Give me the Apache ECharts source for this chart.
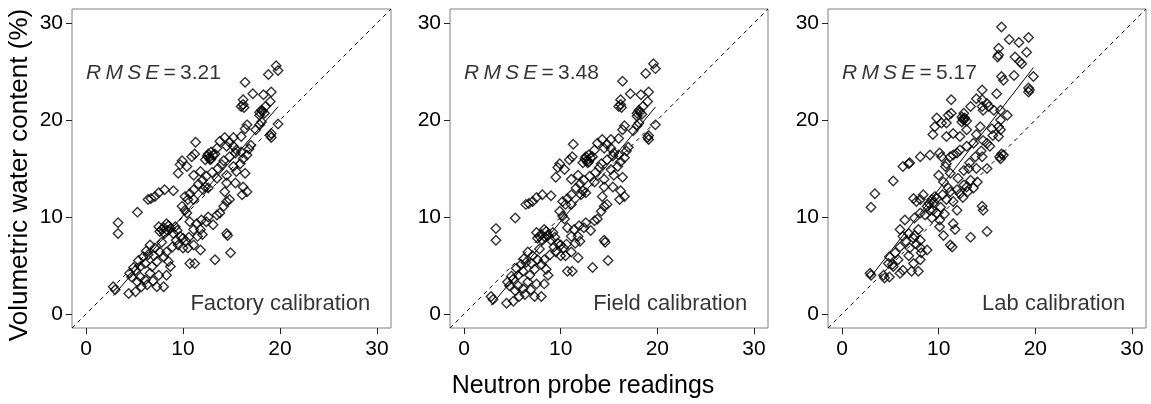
<!DOCTYPE html>
<html>
<head>
<meta charset="utf-8">
<script src="https://cdn.jsdelivr.net/npm/echarts@6/dist/echarts.min.js"></script>
<style>
html,body{margin:0;padding:0;background:#fff;}
#chart{width:1151px;height:404px;}
</style>
</head>
<body>
<div id="chart"></div>
<script>
// ---------- data ----------
const panelNames = ['Factory calibration', 'Field calibration', 'Lab calibration'];
const rmseValues = ['3.21', '3.48', '5.17'];
const tickValues = [0, 10, 20, 30];
const xTitle = 'Neutron probe readings';
const yTitle = 'Volumetric water content (%)';

// neutron probe readings (shared by factory & field panels)
const probeX = [
19.6,19.8,18.8,16.4,17.2,18.3,19.1,16.2,16.0,16.3,16.2,18.5,19.0,18.1,17.9,17.9,18.4,18.2,16.6,16.4,17.9,18.1,19.8,19.1,19.0,19.1,16.0,15.2,17.5,
11.3,14.3,13.8,14.8,15.2,14.5,13.5,12.9,12.5,12.7,12.9,13.1,13.3,12.6,12.8,12.3,11.2,10.9,9.9,9.7,9.5,10.4,11.1,11.8,14.0,15.5,16.0,16.6,15.9,15.2,15.5,16.4,14.5,13.5,12.3,12.6,12.1,14.5,15.4,14.3,16.2,16.6,16.1,11.1,10.7,10.5,10.2,11.1,9.9,10.2,10.4,8.1,7.5,7.1,6.4,6.7,9.0,5.3,14.5,14.2,14.8,13.8,13.5,12.6,12.4,11.9,11.4,11.8,13.1,10.7,11.1,
11.6,12.0,12.4,13.0,13.6,14.2,14.8,15.4,16.2,16.8,17.0,
3.3,3.3,
7.5,7.8,8.3,8.7,9.0,8.1,9.2,9.7,10.0,8.5,8.0,7.6,8.4,9.4,10.3,9.3,9.5,10.0,10.5,11.1,11.8,10.7,11.2,13.3,14.5,14.6,14.9,11.5,12.0,10.6,
6.6,7.1,7.6,6.4,5.9,8.3,8.0,8.5,8.7,7.3,6.8,6.1,5.6,5.1,4.5,4.7,5.6,6.1,6.6,7.5,8.3,5.7,6.3,7.3,8.0,4.4,5.1,2.8,3.0,7.0,6.2,5.4,4.9,7.8,8.9,6.9,5.3
];
const factoryY = [
25.6,25.1,24.7,23.9,22.7,22.6,22.9,22.1,21.4,21.3,21.6,21.4,21.9,21.0,20.8,20.5,20.7,20.9,19.5,19.1,19.5,19.8,19.6,18.6,18.4,18.2,18.3,18.2,19.0,
17.7,18.2,17.8,17.7,17.3,17.3,17.1,16.7,16.3,16.1,16.0,16.4,16.5,16.5,15.9,15.9,16.5,16.2,15.8,15.4,14.5,15.2,14.3,14.7,15.4,16.9,16.7,16.4,15.5,15.2,14.7,14.5,14.3,14.0,13.1,13.0,12.8,13.5,13.5,12.6,13.1,12.6,12.3,12.8,12.4,11.8,12.1,11.8,11.1,10.7,10.4,12.8,12.5,12.1,11.8,11.9,12.7,10.5,11.6,11.1,11.8,10.4,10.2,10.0,9.5,9.7,9.3,8.7,9.2,9.5,8.7,
13.4,13.8,14.2,14.6,15.0,15.8,16.2,16.6,16.0,17.0,17.4,
9.4,8.3,
9.0,8.7,9.3,8.8,8.3,8.3,9.0,8.0,7.8,9.1,8.9,8.5,8.6,8.6,7.5,7.6,7.1,6.8,6.8,7.1,6.6,5.2,5.2,5.6,8.3,8.1,6.3,8.0,8.2,7.9,
7.1,6.8,6.4,6.1,5.9,6.4,5.9,5.4,4.9,5.4,4.9,5.2,4.9,4.5,4.2,3.8,3.8,3.5,4.2,4.0,4.0,2.8,3.0,2.8,2.8,2.1,2.3,2.8,2.5,6.0,6.5,5.5,4.8,7.4,6.9,3.4,3.3
];
const fieldY = [
25.8,25.3,24.8,24.0,22.7,22.6,22.9,22.1,21.4,21.3,21.6,21.4,21.9,21.0,20.7,20.4,20.6,20.8,19.4,19.0,19.4,19.7,19.5,18.4,18.2,18.0,18.1,18.0,18.9,
17.5,18.0,17.6,17.5,17.1,17.1,16.9,16.4,16.0,15.8,15.7,16.1,16.2,16.2,15.6,15.6,16.2,15.9,15.5,15.1,14.1,14.9,13.9,14.3,15.1,16.6,16.4,16.1,15.2,14.9,14.3,14.1,13.9,13.6,12.7,12.5,12.3,13.1,13.1,12.1,12.7,12.1,11.8,12.3,11.9,11.3,11.6,11.3,10.6,10.1,9.8,12.3,12.0,11.6,11.3,11.4,12.2,9.9,11.1,10.6,11.3,9.8,9.6,9.4,8.9,9.1,8.7,8.0,8.6,8.9,8.0,
13.0,13.4,13.8,14.2,14.6,15.5,15.9,16.3,15.7,16.8,17.2,
8.8,7.6,
8.4,8.0,8.7,8.1,7.6,7.6,8.4,7.3,7.1,8.5,8.2,7.8,7.9,7.9,6.8,6.9,6.4,6.0,6.0,6.4,5.8,4.4,4.4,4.8,7.6,7.4,5.5,7.3,7.5,7.2,
6.4,6.0,5.6,5.3,5.1,5.6,5.1,4.6,4.0,4.6,4.0,4.4,4.0,3.6,3.3,2.9,2.9,2.6,3.3,3.1,3.1,1.8,2.0,1.8,1.8,1.1,1.3,1.8,1.5,5.2,5.7,4.7,3.9,6.7,6.1,2.5,2.4
];
// lab calibration panel
const labX = [
16.5,17.3,18.3,19.3,19.1,16.2,16.2,16.1,17.9,18.4,18.6,16.5,17.8,19.8,16.7,19.3,19.3,19.4,14.5,13.9,11.3,14.5,15.0,15.2,16.0,14.5,14.6,13.3,12.6,12.4,12.7,12.4,12.6,12.9,12.5,11.3,11.0,9.8,10.8,9.6,9.4,10.3,10.8,11.5,12.2,12.9,14.3,13.9,13.6,14.6,15.3,14.5,15.0,12.9,12.2,11.9,11.5,11.2,10.1,10.3,9.1,8.1,7.0,6.9,6.3,5.3,3.4,3.0,10.8,10.7,11.2,10.0,10.5,16.4,16.7,16.3,16.5,16.2,17.1,16.4,16.2,16.4,15.5,16.4,15.7,13.1,13.9,13.3,12.6,12.9,11.9,12.2,11.2,10.8,11.5,11.9,14.5,14.6,15.0,13.3,10.5,11.2,11.4,10.1,11.5,11.7,9.3,9.6,9.8,9.5,7.4,7.7,8.1,8.4,8.8,9.1,9.4,9.8,9.3,10.1,8.1,7.5,6.5,6.0,6.3,6.9,7.5,7.4,8.1,7.9,8.8,8.2,7.0,6.0,5.5,4.9,4.8,5.3,6.0,6.3,7.2,7.9,7.4,8.1,4.3,4.4,4.9,2.9,3.0,8.1,
12.0,12.6,13.2,13.8,14.4,15.0,15.6,10.4,11.0,12.5,13.0,13.6,14.0,9.0,10.2,8.6,10.6,6.6,5.8,6.9,5.2,7.7
];
const labY = [
29.6,28.3,28.0,28.5,27.0,27.4,26.7,26.5,26.5,26.0,25.8,24.5,24.6,24.5,24.1,23.3,22.9,23.1,23.1,22.2,22.1,22.1,21.7,21.4,22.7,21.4,21.0,21.4,20.7,20.3,20.2,19.8,20.0,19.9,20.1,20.7,20.5,20.2,19.7,19.3,18.5,19.7,18.3,18.6,18.3,19.0,19.3,18.5,17.6,17.9,17.3,16.2,15.0,17.3,16.9,16.6,16.4,16.2,16.6,16.2,16.4,16.2,15.6,15.5,15.2,13.7,12.4,11.0,15.5,15.2,14.5,14.3,13.6,16.0,16.4,16.2,16.5,18.3,20.5,20.0,19.3,19.0,19.1,21.0,21.0,15.0,15.0,13.8,13.3,13.1,12.8,12.4,12.6,11.8,11.6,10.7,11.1,10.7,8.5,7.9,8.1,7.1,6.9,9.0,9.3,8.7,11.8,12.1,11.9,11.5,11.9,11.6,11.8,12.3,11.1,10.7,10.7,10.4,9.9,9.7,10.4,9.9,9.7,8.7,8.0,8.3,8.1,7.8,7.6,8.7,6.6,6.3,6.8,6.9,6.3,5.9,5.2,4.9,4.2,4.5,4.4,4.4,5.2,5.6,4.0,3.7,3.8,4.2,4.0,6.8,
14.0,14.8,15.6,16.2,16.8,17.6,18.4,12.3,13.0,12.0,12.6,13.0,13.6,11.4,11.0,10.2,10.3,7.5,5.6,6.0,5.1,7.2
];

// ---------- layout ----------
const AX_MIN = -1.45, AX_MAX = 31.45;
const FONT = '"Liberation Sans", Arial, sans-serif';
const grids = [
  {left: 72, top: 9, width: 319, height: 319},
  {left: 450, top: 9, width: 318, height: 319},
  {left: 828, top: 9, width: 318, height: 319}
];
const panels = [
  {x: probeX, y: factoryY},
  {x: probeX, y: fieldY},
  {x: labX, y: labY}
];

function fit(xs, ys) {
  const n = xs.length;
  let sx = 0, sy = 0, sxx = 0, sxy = 0;
  for (let i = 0; i < n; i++) { sx += xs[i]; sy += ys[i]; sxx += xs[i]*xs[i]; sxy += xs[i]*ys[i]; }
  const b = (n*sxy - sx*sy) / (n*sxx - sx*sx);
  const a = (sy - b*sx) / n;
  const x0 = Math.min(...xs), x1 = Math.max(...xs);
  return [[x0, a + b*x0], [x1, a + b*x1]];
}

const axisCommon = (i, margin) => ({
  type: 'value', gridIndex: i, min: AX_MIN, max: AX_MAX,
  splitLine: {show: false},
  axisLine: {show: false, onZero: false},
  axisTick: {show: true, inside: false, customValues: tickValues, length: 6, lineStyle: {color: '#222', width: 1}},
  axisLabel: {customValues: tickValues, fontSize: 21, color: '#000', fontFamily: FONT, margin: margin}
});

const option = {
  animation: false,
  backgroundColor: '#fff',
  grid: grids.map(g => Object.assign({show: true, borderColor: '#808080', borderWidth: 1, backgroundColor: 'transparent'}, g)),
  xAxis: grids.map((g, i) => axisCommon(i, 11)),
  yAxis: grids.map((g, i) => axisCommon(i, 9)),
  series: [],
  graphic: [
    {type: 'text', x: 583, y: 386, style: {text: xTitle, font: '25px ' + FONT, fill: '#000', align: 'center', verticalAlign: 'middle'}},
    {type: 'text', x: 20, y: 175, rotation: Math.PI/2, style: {text: yTitle, font: '26px ' + FONT, fill: '#000', align: 'center', verticalAlign: 'middle'}}
  ]
};

panels.forEach((p, i) => {
  const pts = p.x.map((v, k) => [v, p.y[k]]);
  option.series.push({
    type: 'line', xAxisIndex: i, yAxisIndex: i, symbol: 'none', silent: true,
    data: [[AX_MIN, AX_MIN], [AX_MAX, AX_MAX]],
    lineStyle: {color: '#000', width: 1, type: [4, 4]}, z: 1
  });
  option.series.push({
    type: 'line', xAxisIndex: i, yAxisIndex: i, symbol: 'none', silent: true,
    data: fit(p.x, p.y),
    lineStyle: {color: '#000', width: 1}, z: 1
  });
  option.series.push({
    type: 'scatter', xAxisIndex: i, yAxisIndex: i, symbol: 'diamond', symbolSize: 9.5,
    data: pts,
    itemStyle: {color: 'rgba(0,0,0,0)', borderColor: '#000', borderWidth: 1.4}, z: 2
  });
  option.series.push({
    type: 'scatter', xAxisIndex: i, yAxisIndex: i, symbolSize: 0, silent: true,
    data: [[0, 24.8]],
    label: {
      show: true, position: 'right', distance: 0,
      formatter: '{i|R\u2009M\u2009S\u2009E}{n|\u2009=\u2009' + rmseValues[i] + '}',
      rich: {
        i: {fontStyle: 'italic', fontSize: 21, color: '#000', fontFamily: FONT},
        n: {fontSize: 21, color: '#000', fontFamily: FONT}
      }
    }, z: 3
  });
  option.series.push({
    type: 'scatter', xAxisIndex: i, yAxisIndex: i, symbolSize: 0, silent: true,
    data: [[29.3, 1.0]],
    label: {show: true, position: 'left', distance: 0, formatter: panelNames[i], fontSize: 22, color: '#000', fontFamily: FONT},
    z: 3
  });
});

const chart = echarts.init(document.getElementById('chart'), null, {renderer: 'canvas'});
chart.setOption(option);
</script>
</body>
</html>
